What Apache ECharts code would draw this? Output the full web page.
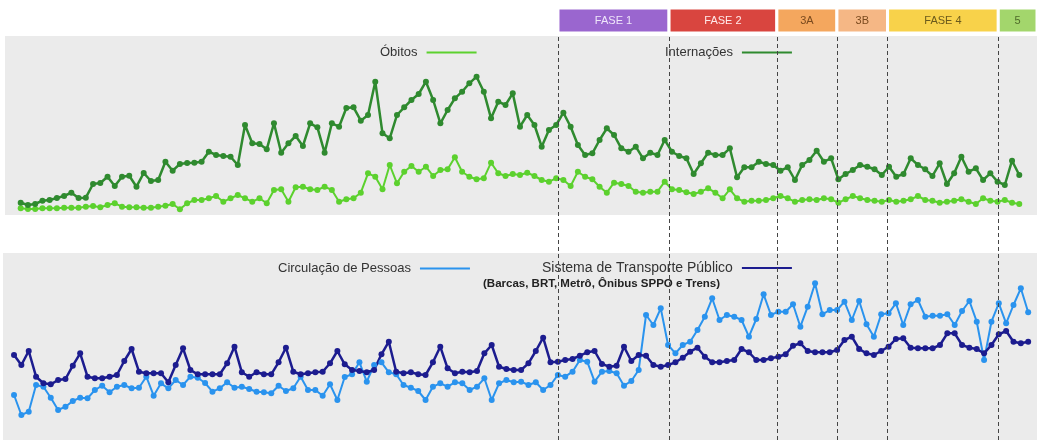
<!DOCTYPE html>
<html><head><meta charset="utf-8">
<script src="https://cdn.jsdelivr.net/npm/echarts@6/dist/echarts.min.js"></script>
<style>html,body{margin:0;padding:0;background:#fff}#c{width:1037px;height:444px}</style>
</head><body><div id="c"></div>
<script>
// ---- data (daily series, arbitrary units) ----
const obitos = [6.7,6,6,6.7,6.7,6.7,7.3,7.3,7.3,8.3, 9,7.7,10,11.7,8.3,7.7,7.7,7.3,7.3,8.3,
 9.3,11,5.7,11.7,15,15,16.7,19,13.3,16.7, 20,16.7,13.3,16.7,11.7,25,25.7,13.3,27.7,28.3,
 25.7,25,28.3,25,13.3,15.7,16.7,22.3,41.7,38.3, 25.7,50,31.7,43.3,49,43.3,48.3,39,45,45.7,
 57.7,43.3,38.3,35.7,36.7,52.3,41.7,39,41,40, 42.3,39,35,33.3,36.7,35,29,43.3,38.3,35.7,
 28.3,22.3,32.3,31,29,23.3,22.3,23.3,23.3,33.3, 25.7,25,22.8,21,23.3,26.7,22.3,16.7,25.7,16.7,
 13.3,14.3,14.3,15,16.7,19,16.7,13.3,15,15.7, 15,16.7,15.7,12.3,15.7,19,16.7,15,14.3,13.3,
 15,13.3,14.3,15.7,19,15,14.3,12.3,13.3,14.3, 15.7,13.3,11,16.7,14.3,13.3,15,12.3,11];
const internacoes = [12.3,10,11,14.3,15,17,19,22.3,17,17.3, 31,32,38.3,29,38.3,39.3,28.3,42,34,35,
 53.3,44.3,51,52,52.3,53.3,63.3,60,59,58.3, 50,90,71.7,71,65.7,91.7,62.3,71.7,79,69,
 91.7,87.7,62.3,91.7,88.3,107,107.7,94.3,100,133.3, 81.7,76.7,100,107.7,115,121,133.3,115,91.7,105,
 116.7,123.3,131.7,138.3,123.3,96.7,113.3,110,121.7,88.3, 100,90,68.3,85,90,102.3,88.3,70,60,61.7,
 75,86.7,80,66.7,63.3,68.3,56.7,62.3,60,75, 63.3,59,56.7,41,51.7,62.3,60,60,66.7,37.7,
 47.7,47.7,53.3,51,50,44.3,47.7,35,50,55, 64.3,53.3,56.7,35.7,41,45,50,48.3,45.7,40,
 48.3,38.3,41,56.7,50,45.7,39,51.7,31,41.7, 58.3,43.3,46.7,35,41.7,33.3,30,54.3,40];
const circulacao = [45,25,28.3,55,53.3,42.3,30,33.3,39,42.3, 41.7,50,54.3,47.7,53.3,55,51.7,52.3,63.3,44.3,
 56.7,51.7,60,55,63.3,62.3,57,48.3,51.7,57.7, 52.3,53.3,51,48.3,47.7,46.7,54.3,49,51.7,63.3,
 50,50,44.3,55.7,40,63,65.7,77.7,58.3,75, 77.7,67.7,65.7,55,52.3,49,40,53.3,56.7,53.3,
 57.7,56.7,50,53.3,61.7,40,56.7,60,57.7,58.3, 55,57.7,50,55,65,63.3,68.3,80,78.3,58.3,
 68.3,69,66.7,54.3,59,70,125,115,131.7,95, 86.7,95,98.3,110,123.3,141.7,120,125,123.3,120,
 103.3,121,145.7,125,128.3,128.3,135.7,113.3,133.3,156.7, 125.7,130,130,138.3,120,139,115.7,103.3,125.7,126.7,
 136.7,115,135.7,140,123.3,124.3,124.3,125.7,115,129, 139,118.3,80,118.3,136.7,116.7,135,151.7,127.7];
const transporte = [85,75,89,63.3,56.7,55.7,60,61,74.3,86.7, 63.3,61.7,61.7,63.3,65,79,91,68.3,66.7,66.7,
 66.7,57.7,75,91.7,70,65.7,65.7,65.7,65.7,76.7, 93.3,67.7,63.3,67.7,65.7,65.7,77.7,92.3,68.3,65.7,
 66.7,67.7,68.3,76.7,89,75.7,70,69,67.7,70, 85.7,98.3,68.3,66.7,67.7,65.7,65,77.7,93.3,71.7,
 66.7,68.3,67.7,69,86.7,95,73.3,71,70,70, 76.7,89,102.3,77.7,78.3,80,81,84.3,87.7,89,
 76,73.3,74.3,93.3,79,85,84.3,75,73.3,75, 77.7,82.3,88.3,92.3,83.3,77.7,77.7,79,80,91,
 87.7,80,80,81.7,83.3,85.7,94.3,96.7,89,87.7, 87.7,87.7,90,100,103.3,91,86.7,85,89,93.3,
 101,101.7,92.3,91.7,91.7,91.7,95,106.7,106.7,95, 92.3,91,86.7,95,105.7,109,98.3,96.7,98.3];
const phaseNames = ['FASE 1','FASE 2','3A','3B','FASE 4','5'];
const phaseStarts = [74.25, 89.6, 104.5, 112.8, 119.8, 135.1]; // day index where each phase starts

// ---- styles ----
const phaseFill = ['#9a66cf','#d9453f','#f4a75e','#f5b785','#f8d24a','#a3d66c'];
const phaseText = ['#efe6fa','#ffeaea','#7a4a1e','#7a4a1e','#6b5a1c','#4f6b2a'];
const FONT = "'Liberation Sans', Arial, sans-serif";
const TOP_MIN = -2.17, TOP_MAX = 140.45;

const pairs = arr => arr.map((v, i) => [i, v]);
const chart = echarts.init(document.getElementById('c'));

const lineSeries = (name, data, color, xi, lw) => ({
  name, type: 'line', xAxisIndex: xi, yAxisIndex: xi, data: pairs(data),
  symbol: 'circle', symbolSize: 6, showSymbol: true,
  itemStyle: { color }, lineStyle: { color, width: lw },
  z: 3
});

const legendBase = {
  orient: 'horizontal', align: 'right', icon: 'rect', itemWidth: 50, itemHeight: 2,
  padding: 0, selectedMode: false,
  textStyle: { fontFamily: FONT, fontSize: 13, color: '#333', padding: [0, 4, 0, 0] }
};

chart.setOption({
  animation: false,
  backgroundColor: '#fff',
  grid: [
    { left: 5, right: 0, top: 36, height: 179, show: true, backgroundColor: '#ebebeb', borderWidth: 0 },
    { left: 3, right: 0, top: 253, height: 187, show: true, backgroundColor: '#ebebeb', borderWidth: 0 },
    { left: 5, right: 0, top: 34, height: 406, show: false },
    { left: 5, right: 0, top: 8, height: 25, show: false }
  ],
  xAxis: [
    { gridIndex: 0, type: 'value', min: TOP_MIN, max: TOP_MAX, show: false },
    { gridIndex: 1, type: 'value', min: -1.5, max: 139.2, show: false },
    { gridIndex: 2, type: 'value', min: TOP_MIN, max: TOP_MAX, show: false },
    { gridIndex: 3, type: 'value', min: TOP_MIN, max: TOP_MAX, show: false }
  ],
  yAxis: [
    { gridIndex: 0, type: 'value', min: 0, max: 179, show: false },
    { gridIndex: 1, type: 'value', min: 0, max: 187, show: false },
    { gridIndex: 2, type: 'value', min: 0, max: 1, show: false },
    { gridIndex: 3, type: 'value', min: 0, max: 1, show: false }
  ],
  legend: [
    Object.assign({}, legendBase, { left: 380, top: 46, data: ['Óbitos'] }),
    Object.assign({}, legendBase, { left: 665, top: 46, data: ['Internações'] }),
    Object.assign({}, legendBase, { left: 278, top: 262, data: ['Circulação de Pessoas'] }),
    Object.assign({}, legendBase, { left: 542, top: 261, data: ['Sistema de Transporte Público'],
      textStyle: Object.assign({}, legendBase.textStyle, { fontSize: 14 }) })
  ],
  graphic: [
    { type: 'text', left: 483, top: 278,
      style: { text: '(Barcas, BRT, Metrô, Ônibus SPPO e Trens)', font: "bold 11.5px 'Liberation Sans', Arial", fill: '#222' } }
  ],
  series: [
    lineSeries('Óbitos', obitos, '#5cd12e', 0, 2),
    lineSeries('Internações', internacoes, '#2f8a2f', 0, 2.5),
    lineSeries('Circulação de Pessoas', circulacao, '#2a93ee', 1, 2),
    lineSeries('Sistema de Transporte Público', transporte, '#1c1c8f', 1, 2.5),
    {
      type: 'line', xAxisIndex: 2, yAxisIndex: 2, data: [[0, 0]], showSymbol: false,
      lineStyle: { opacity: 0 }, silent: true, z: 5,
      markLine: {
        silent: true, symbol: 'none', label: { show: false },
        lineStyle: { color: '#444', width: 1, type: [4, 3] },
        data: phaseStarts.map(x => ({ xAxis: x }))
      }
    },
    {
      type: 'line', xAxisIndex: 3, yAxisIndex: 3, data: [[0, 0]], showSymbol: false,
      lineStyle: { opacity: 0 }, silent: true,
      markArea: {
        silent: true,
        data: phaseNames.map((n, i) => [
          { xAxis: phaseStarts[i], name: n,
            itemStyle: { color: phaseFill[i], borderColor: '#fff', borderWidth: 3 },
            label: { show: true, position: 'inside', color: phaseText[i], fontFamily: FONT, fontSize: 11 } },
          { xAxis: i + 1 < phaseStarts.length ? phaseStarts[i + 1] : TOP_MAX }
        ])
      }
    }
  ]
});
</script>
</body></html>
